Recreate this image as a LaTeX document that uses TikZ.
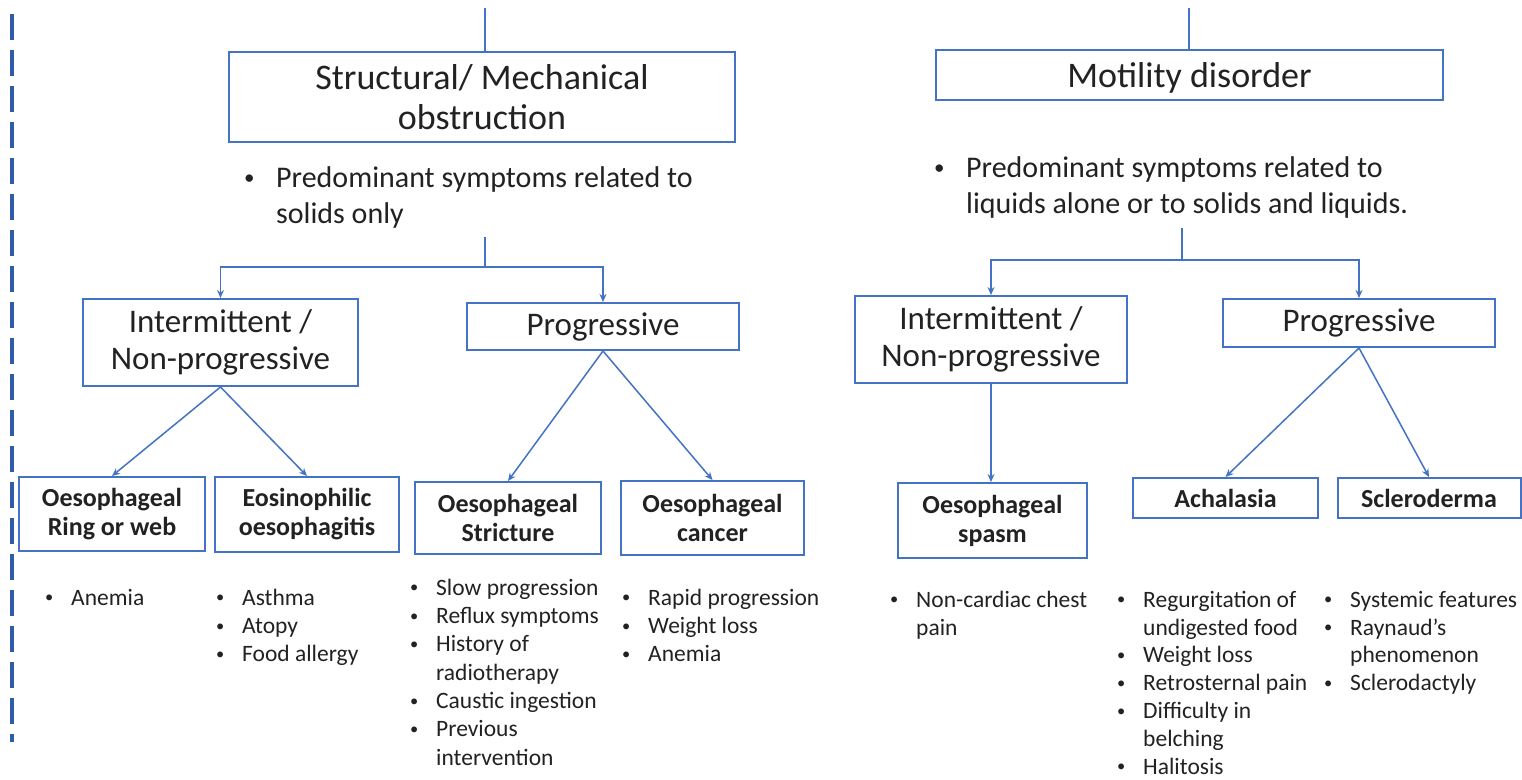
\documentclass[tikz,border=0pt]{standalone}
\usepackage{fontspec}
\setmainfont{Carlito}
\usetikzlibrary{arrows.meta}
\definecolor{boxblue}{HTML}{4472C4}
\definecolor{dashblue}{HTML}{2F5BAA}
\definecolor{txt}{HTML}{222222}
\newcommand\mydot{\raisebox{0.1em}{\scalebox{0.7}{•}}}
\newcommand\lbul{\makebox[26pt][l]{\mydot}}
\newcommand\lind{\hspace*{26pt}}
\newcommand\bbul{\makebox[32pt][l]{\mydot}}
\newcommand\bind{\hspace*{32pt}}
\tikzset{
  box/.style={draw=boxblue, line width=2pt, fill=white, text=txt, align=center, inner sep=0pt},
  bigbox/.style={box, font=\fontsize{36}{40}\selectfont},
  midbox/.style={box, font=\fontsize{33}{37}\selectfont},
  smallbox/.style={box, font=\bfseries\fontsize{26}{29}\selectfont},
  conn/.style={draw=boxblue, line width=1.5pt},
  arr/.style={conn, -{Stealth[length=8pt,width=7pt]}},
  lst/.style={text=txt, anchor=north west, inner sep=0pt, align=left, font=\fontsize{23.5}{28.3}\selectfont},
  lstb/.style={lst, font=\fontsize{23.5}{27.8}\selectfont},
  blst/.style={text=txt, anchor=north west, inner sep=0pt, align=left, font=\fontsize{30}{36}\selectfont},
}
\begin{document}
\begin{tikzpicture}[x=1pt,y=-1pt]
\useasboundingbox[fill=white] (0,0) rectangle (1522,779);
% dashed separator
\coordinate (d1) at (12,14);
\coordinate (d2) at (12,742);
\draw[dashblue, line width=3.5pt, dash pattern=on 26pt off 10pt] (d1) -- (d2);

% boxes
\node[bigbox, minimum width=506pt, minimum height=90pt] (S) at (482,97) {Structural/ Mechanical\\obstruction};
\node[bigbox, minimum width=507pt, minimum height=50pt, text depth=0pt] (M) at (1189.5,75) {Motility disorder};
\node[midbox, minimum width=275pt, minimum height=87pt] (LI) at (220.5,342.5) {Intermittent /\\Non-progressive};
\node[midbox, minimum width=272pt, minimum height=47pt] (LP) at (603,326.5) {Progressive};
\node[midbox, minimum width=272pt, minimum height=87pt] (RI) at (991,339.5) {Intermittent /\\Non-progressive};
\node[midbox, minimum width=272pt, minimum height=48pt] (RP) at (1359,323) {Progressive};
\node[smallbox, minimum width=186pt, minimum height=74pt] (Ring) at (112,514) {Oesophageal\\Ring or web};
\node[smallbox, minimum width=184pt, minimum height=75pt] (Eos) at (307,514.5) {Eosinophilic\\oesophagitis};
\node[smallbox, minimum width=186pt, minimum height=72pt] (Str) at (508,518) {Oesophageal\\Stricture};
\node[smallbox, minimum width=183pt, minimum height=74pt] (Can) at (712.5,518) {Oesophageal\\cancer};
\node[smallbox, minimum width=189pt, minimum height=75pt] (Spa) at (992.5,520.5) {Oesophageal\\spasm};
\node[smallbox, minimum width=185pt, minimum height=40pt] (Ach) at (1225.5,498) {Achalasia};
\node[smallbox, minimum width=183pt, minimum height=40pt] (Scl) at (1429,498) {Scleroderma};

% connectors
\coordinate (tL) at (485,8);
\coordinate (tR) at (1189,8);
\draw[conn] (tL) -- (tL |- S.north);
\draw[conn] (tR) -- (tR |- M.north);
\coordinate (jL) at (485,237);
\coordinate (bL) at (485,267);
\draw[conn] (jL) -- (bL);
\draw[arr] (bL) -| (LI.north);
\draw[arr] (bL) -| (LP.north);
\coordinate (jR) at (1182,228);
\coordinate (bR) at (1182,260);
\draw[conn] (jR) -- (bR);
\draw[arr] (bR) -| (RI.north);
\draw[arr] (bR) -| (RP.north);
\draw[arr] (LI.south) -- (Ring.north);
\draw[arr] (LI.south) -- (Eos.north);
\draw[arr] (LP.south) -- (Str.north);
\draw[arr] (LP.south) -- (Can.north);
\draw[arr] (RI.south) -- (RI.south |- Spa.north);
\draw[arr] (RP.south) -- (Ach.north);
\draw[arr] (RP.south) -- (Scl.north);

% bullet texts
\node[blst] (bS) at (244,161) {\rule{0pt}{26pt}\bbul Predominant symptoms related to\\\bind solids only};
\node[blst] (bM) at (934,151) {\rule{0pt}{26pt}\bbul Predominant symptoms related to\\\bind liquids alone or to solids and liquids.};

\node[lst] (lRing) at (45,585) {\rule{0pt}{20pt}\lbul Anemia};
\node[lst] (lEos) at (216,585) {\rule{0pt}{20pt}\lbul Asthma\\\lbul Atopy\\\lbul Food allergy};
\node[lst] (lStr) at (410,575) {\rule{0pt}{20pt}\lbul Slow progression\\\lbul Reflux symptoms\\\lbul History of\\\lind radiotherapy\\\lbul Caustic ingestion\\\lbul Previous\\\lind intervention};
\node[lst] (lCan) at (622,585) {\rule{0pt}{20pt}\lbul Rapid progression\\\lbul Weight loss\\\lbul Anemia};
\node[lstb] (lSpa) at (890,587) {\rule{0pt}{20pt}\lbul Non-cardiac chest\\\lind pain};
\node[lstb] (lAch) at (1117,587) {\rule{0pt}{20pt}\lbul Regurgitation of\\\lind undigested food\\\lbul Weight loss\\\lbul Retrosternal pain\\\lbul Difficulty in\\\lind belching\\\lbul Halitosis};
\node[lstb] (lScl) at (1324,587) {\rule{0pt}{20pt}\lbul Systemic features\\\lbul Raynaud's\\\lind phenomenon\\\lbul Sclerodactyly};
\end{tikzpicture}
\end{document}
